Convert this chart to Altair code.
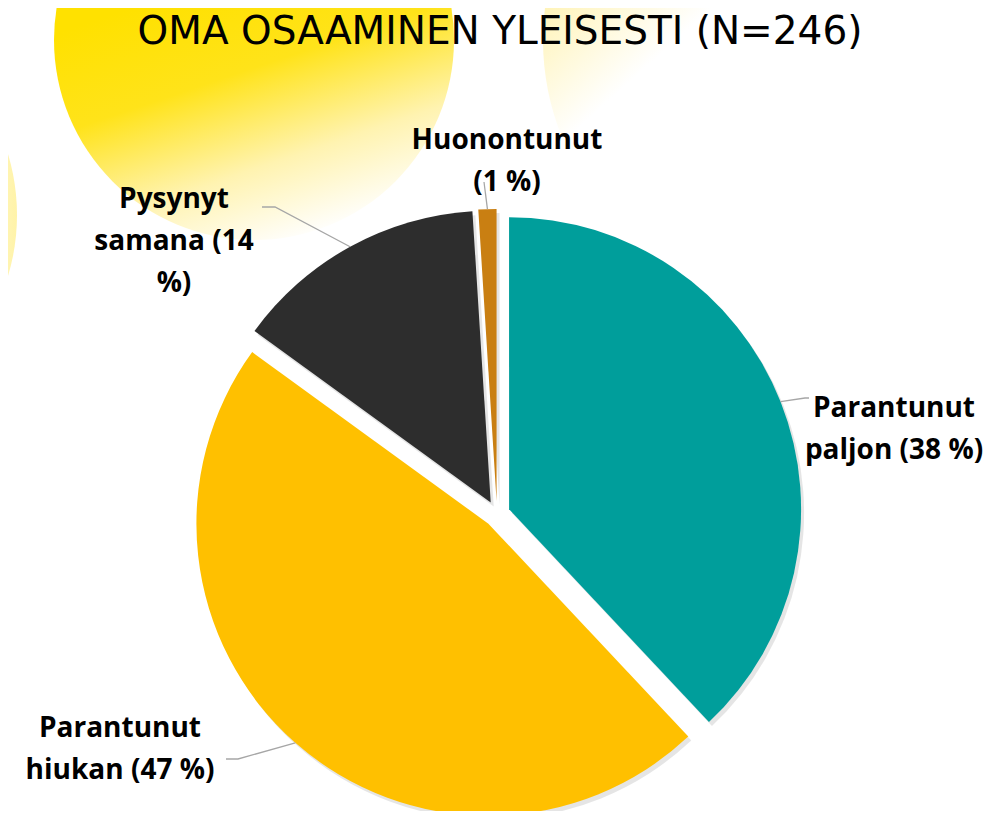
import math
import altair as alt
import pandas as pd

# ---------------- data ----------------
categories = ["Parantunut paljon", "Parantunut hiukan", "Pysynyt samana", "Huonontunut"]
shares = [38, 47, 14, 1]
label_texts = [
    "Parantunut\npaljon (38 %)",
    "Parantunut\nhiukan (47 %)",
    "Pysynyt\nsamana (14\n%)",
    "Huonontunut\n(1 %)",
]
slice_colors = ["#009E9B", "#FFC000", "#2D2D2D", "#C97F12"]
title_text = "OMA OSAAMINEN YLEISESTI (N=246)"

# ---------------- layout (page pixels) ----------------
OFF = 8
W, H = 1007 - 2 * OFF, 819 - 2 * OFF
CX, CY = 497 - OFF, 514 - OFF
R = 292
EXPLODE = 13
FONT_LABEL = "Open Sans"
FONT_TITLE = "DejaVu Sans"

label_anchor = {
    "Parantunut paljon": (894, 409),
    "Parantunut hiukan": (120, 729),
    "Pysynyt samana": (174, 200),
    "Huonontunut": (507, 141),
}
leader_elbow = {
    "Parantunut paljon": [(805, 398), (809, 398)],
    "Parantunut hiukan": [(238, 759), (226, 759)],
    "Pysynyt samana": [(275, 207), (262, 207)],
    "Huonontunut": [(484, 182)],
}

# ---------------- derived tables ----------------
total = sum(shares)
rows, lines, labels = [], [], []
acc = 0
for cat, val, txt in zip(categories, shares, label_texts):
    start, end = acc, acc + val
    acc = end
    mid = (start + end) / 2 / total * 2 * math.pi
    cx = CX + EXPLODE * math.sin(mid)
    cy = CY - EXPLODE * math.cos(mid)
    rows.append(dict(cat=cat, value=val, start=start, end=end, cx=cx, cy=cy,
                     sx=cx + 3, sy=cy + 4))
    ex, ey = cx + R * math.sin(mid), cy - R * math.cos(mid)
    pts = [(ex, ey)] + [(x - OFF, y - OFF) for x, y in leader_elbow[cat]]
    for i, (px, py) in enumerate(pts):
        lines.append(dict(cat=cat, seq=i, px=px, py=py))
    lx, ly = label_anchor[cat]
    labels.append(dict(cat=cat, text=txt, lx=lx - OFF, ly=ly - OFF))

df = pd.DataFrame(rows)
df_lines = pd.DataFrame(lines)
df_labels = pd.DataFrame(labels)

color_scale = alt.Scale(domain=categories, range=slice_colors)
theta_scale = alt.Scale(domain=[0, total], range=[0, 2 * math.pi])

# ---------------- background decoration ----------------
def bg_circle(x, y, r, grad, opacity=1.0):
    return alt.Chart(pd.DataFrame({"k": [0]})).mark_arc(
        theta=0, theta2=2 * math.pi, radius=r, fill=grad, opacity=opacity
    ).encode(x=alt.value(x - OFF), y=alt.value(y - OFF))

bg_big = bg_circle(254, 40, 200, {
    "gradient": "linear", "x1": 0.4, "y1": 0.35, "x2": 0.62, "y2": 1.0,
    "stops": [
        {"offset": 0, "color": "#FFE100"},
        {"offset": 0.35, "color": "#FFE31A"},
        {"offset": 0.7, "color": "#FFF3B0"},
        {"offset": 1, "color": "#FFFFFF"},
    ]})
bg_right = bg_circle(800, 40, 257, {
    "gradient": "linear", "x1": 0, "y1": 0.1, "x2": 0.45, "y2": 0.6,
    "stops": [
        {"offset": 0, "color": "#FFE030"},
        {"offset": 0.3, "color": "#FFF1A8"},
        {"offset": 0.7, "color": "#FFFFFF"},
        {"offset": 1, "color": "#FFFFFF"},
    ]})
bg_left = bg_circle(-195, 215, 212, {
    "gradient": "linear", "x1": 1, "y1": 0.5, "x2": 0.8, "y2": 0.5,
    "stops": [
        {"offset": 0, "color": "#FFF3A8"},
        {"offset": 1, "color": "#FFFFFF"},
    ]})

base = alt.Chart(df)

shadow = base.mark_arc(radius=R, color="#000000", opacity=0.10).encode(
    x=alt.X("sx:Q", scale=None),
    y=alt.Y("sy:Q", scale=None),
    theta=alt.Theta("start:Q", scale=theta_scale, stack=None),
    theta2="end:Q",
)

slices = base.mark_arc(radius=R).encode(
    x=alt.X("cx:Q", scale=None),
    y=alt.Y("cy:Q", scale=None),
    theta=alt.Theta("start:Q", scale=theta_scale, stack=None),
    theta2="end:Q",
    color=alt.Color("cat:N", scale=color_scale, legend=None),
)

leaders = alt.Chart(df_lines).mark_line(color="#A6A6A6", strokeWidth=1.3).encode(
    x=alt.X("px:Q", scale=None),
    y=alt.Y("py:Q", scale=None),
    detail="cat:N",
    order="seq:Q",
)

label_layer = alt.Chart(df_labels).mark_text(
    font=FONT_LABEL, fontSize=28, fontWeight="bold", color="#000000",
    align="center", baseline="middle", lineBreak="\n", lineHeight=42,
).encode(
    x=alt.X("lx:Q", scale=None),
    y=alt.Y("ly:Q", scale=None),
    text="text:N",
)

title_layer = alt.Chart(pd.DataFrame({"t": [title_text]})).mark_text(
    font=FONT_TITLE, fontSize=39, fontWeight="normal", color="#000000",
    align="center", baseline="middle",
).encode(
    x=alt.value(500 - OFF),
    y=alt.value(32 - OFF),
    text="t:N",
)

chart = alt.layer(
    bg_big, bg_right, bg_left, shadow, slices, leaders, label_layer, title_layer
).properties(
    width=W, height=H, padding=0,
    autosize=alt.AutoSizeParams(type="none"),
    background="#FFFFFF",
).configure_view(stroke=None)

chart.save("out.html", embed_options={"renderer": "svg", "actions": False})
